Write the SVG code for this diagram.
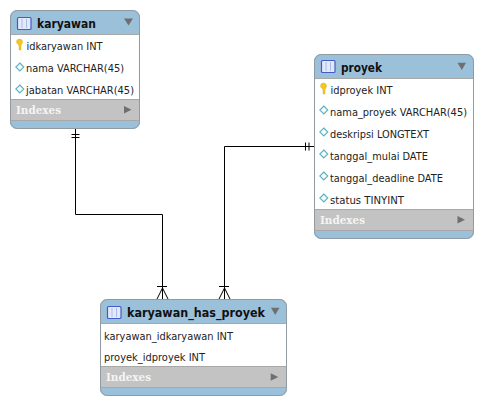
<svg xmlns="http://www.w3.org/2000/svg" width="483" height="405" viewBox="0 0 483 405">
<style>
.body{fill:#fff}
.hdr{fill:#9bc0da}
.idx{fill:#c3c3c3}
.sep{stroke:#a8a8a8;stroke-width:1;fill:none}
.frame{fill:none;stroke:#8f9aa3;stroke-width:1}
.title{font-family:"DejaVu Sans",sans-serif;font-weight:700;font-size:12.5px;fill:#111}
.col{font-family:"DejaVu Sans",sans-serif;font-size:10px;fill:#222}
.ix{font-family:"DejaVu Serif",serif;font-weight:700;font-size:10.5px;fill:#f4f4f4}
.tri{fill:#6f6f6f}
.ic{fill:#e4e9fa;stroke:#3f5cc8;stroke-width:1.2}
.icl{stroke:#a9bbe8;stroke-width:1;fill:none}
.dia{fill:#f4fbfc;stroke:#5fb0bf;stroke-width:1.1}
.key{fill:#f2c81e;stroke:#d9a90f;stroke-width:.4}
.ln{fill:none;stroke:#000;stroke-width:1}
</style>
<rect width="483" height="405" fill="#fff"/>
<g id="connectors">
<path class="ln" d="M75.500 129V214.500H162.500V299"/>
<path class="ln" d="M71.500 134.500H79.500M71.500 137.500H79.500"/>
<path class="ln" d="M157 286.500H167M157 299L162.500 288L168 299"/>
<path class="ln" d="M314 146.500H224.500V299"/>
<path class="ln" d="M305.500 142.500V150.500M309 142.500V150.500"/>
<path class="ln" d="M219 286.500H229M219 299L224.500 288L230 299"/>
</g>
<g id="karyawan">
<rect class="hdr" x="10" y="10" width="130" height="119" rx="7"/>
<rect class="body" x="11" y="34" width="128" height="65"/>
<rect class="idx" x="11" y="99" width="128" height="21"/>
<path class="sep" d="M11 34.500H139M11 99.500H139M11 120.500H139"/>
<rect class="frame" x="10.500" y="10.500" width="129" height="118" rx="7"/>
<rect class="ic" x="17.500" y="17.500" width="13.500" height="12" rx="1"/><path class="icl" d="M22 19V28M26.500 19V28"/>
<text class="title" x="37" y="28" textLength="59" lengthAdjust="spacingAndGlyphs">karyawan</text>
<path class="tri" d="M124 18.500H133L128.500 25.500Z"/>
<path class="key" d="M16.500 42a3 3 0 0 1 6 0c0 2-1.500 2.500-1.500 4v4h-2v-4c0-1.500-2.500-2-2.500-4Z"/>
<text class="col" x="26.500" y="50" textLength="76" lengthAdjust="spacingAndGlyphs">idkaryawan INT</text>
<path class="dia" d="M19.800 63L23.800 67L19.800 71L15.800 67Z"/>
<text class="col" x="26" y="72" textLength="98" lengthAdjust="spacingAndGlyphs">nama VARCHAR(45)</text>
<path class="dia" d="M19.800 85L23.800 89L19.800 93L15.800 89Z"/>
<text class="col" x="26" y="94" textLength="108" lengthAdjust="spacingAndGlyphs">jabatan VARCHAR(45)</text>
<text class="ix" x="16" y="114" textLength="45" lengthAdjust="spacingAndGlyphs">Indexes</text>
<path class="tri" d="M124 106L131.500 109.700L124 113.400Z"/>
</g>
<g id="proyek">
<rect class="hdr" x="314" y="54" width="160" height="185" rx="7"/>
<rect class="body" x="315" y="78" width="158" height="131"/>
<rect class="idx" x="315" y="209" width="158" height="21"/>
<path class="sep" d="M315 78.500H473M315 209.500H473M315 230.500H473"/>
<rect class="frame" x="314.500" y="54.500" width="159" height="184" rx="7"/>
<rect class="ic" x="321.500" y="60.500" width="13.500" height="12" rx="1"/><path class="icl" d="M326 62V71M330.500 62V71"/>
<text class="title" x="341" y="72" textLength="41" lengthAdjust="spacingAndGlyphs">proyek</text>
<path class="tri" d="M457.500 62.700H466L461.800 70Z"/>
<path class="key" d="M320.500 86a3 3 0 0 1 6 0c0 2-1.500 2.500-1.500 4v4h-2v-4c0-1.500-2.500-2-2.500-4Z"/>
<text class="col" x="330.500" y="94" textLength="62" lengthAdjust="spacingAndGlyphs">idproyek INT</text>
<path class="dia" d="M323.800 106L327.800 110L323.800 114L319.800 110Z"/>
<text class="col" x="330" y="116" textLength="137" lengthAdjust="spacingAndGlyphs">nama_proyek VARCHAR(45)</text>
<path class="dia" d="M323.800 128L327.800 132L323.800 136L319.800 132Z"/>
<text class="col" x="330" y="138" textLength="99" lengthAdjust="spacingAndGlyphs">deskripsi LONGTEXT</text>
<path class="dia" d="M323.800 150L327.800 154L323.800 158L319.800 154Z"/>
<text class="col" x="330" y="160" textLength="98" lengthAdjust="spacingAndGlyphs">tanggal_mulai DATE</text>
<path class="dia" d="M323.800 172L327.800 176L323.800 180L319.800 176Z"/>
<text class="col" x="330" y="182" textLength="113" lengthAdjust="spacingAndGlyphs">tanggal_deadline DATE</text>
<path class="dia" d="M323.800 194L327.800 198L323.800 202L319.800 198Z"/>
<text class="col" x="330" y="204" textLength="74" lengthAdjust="spacingAndGlyphs">status TINYINT</text>
<text class="ix" x="320" y="224" textLength="45" lengthAdjust="spacingAndGlyphs">Indexes</text>
<path class="tri" d="M457.500 216L465 219.700L457.500 223.400Z"/>
</g>
<g id="karyawan_has_proyek">
<rect class="hdr" x="100" y="299" width="187" height="97" rx="7"/>
<rect class="body" x="101" y="323" width="185" height="43"/>
<rect class="idx" x="101" y="366" width="185" height="21"/>
<path class="sep" d="M101 323.500H286M101 366.500H286M101 387.500H286"/>
<rect class="frame" x="100.500" y="299.500" width="186" height="96" rx="7"/>
<rect class="ic" x="107.500" y="306.500" width="13.500" height="12" rx="1"/><path class="icl" d="M112 308V317M116.500 308V317"/>
<text class="title" x="127" y="317" textLength="138" lengthAdjust="spacingAndGlyphs">karyawan_has_proyek</text>
<path class="tri" d="M271 307.700H279.500L275.200 315Z"/>
<text class="col" x="104" y="340" textLength="129" lengthAdjust="spacingAndGlyphs">karyawan_idkaryawan INT</text>
<text class="col" x="104" y="361" textLength="101" lengthAdjust="spacingAndGlyphs">proyek_idproyek INT</text>
<text class="ix" x="106" y="381" textLength="45" lengthAdjust="spacingAndGlyphs">Indexes</text>
<path class="tri" d="M270.700 373.300L278.300 377L270.700 380.700Z"/>
</g>
</svg>
